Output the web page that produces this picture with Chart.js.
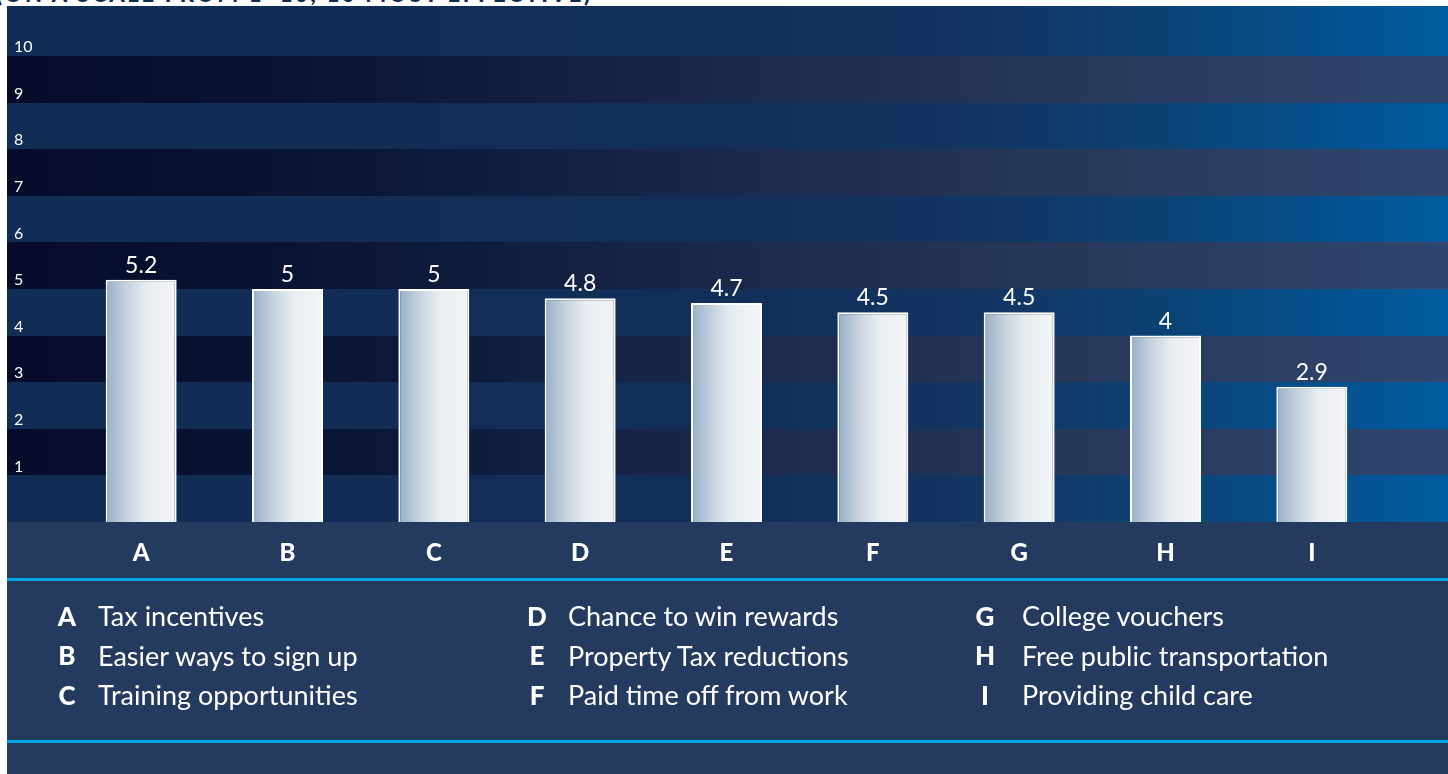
<!DOCTYPE html>
<html><head><meta charset="utf-8">
<script src="https://cdn.jsdelivr.net/npm/chart.js@4.4.1/dist/chart.umd.min.js"></script>
<style>
html,body{margin:0;padding:0;background:#fff;width:1448px;height:774px;overflow:hidden;font-family:Lato,sans-serif;}
#title{position:absolute;left:0;top:0;width:1448px;height:6px;overflow:hidden;}
#title span{position:absolute;left:-4px;top:-17px;font:900 22px/22px Lato,sans-serif;letter-spacing:2.7px;color:#13294b;white-space:nowrap;}
#wrap{position:absolute;left:7px;top:6px;width:1441px;height:768px;}
#legend .k{position:absolute;width:40px;text-align:center;font:900 26px/39px Lato,sans-serif;color:#fff;white-space:nowrap;}
#legend .t{position:absolute;font:400 27px/39px Lato,sans-serif;color:#fff;white-space:nowrap;}
</style></head>
<body>
<div id="title"><span>(ON A SCALE FROM 1–10, 10 MOST EFFECTIVE)</span></div>
<div id="wrap"><canvas id="c" width="1441" height="768"></canvas></div>
<div id="legend"></div>
<script>
const categories = ['A','B','C','D','E','F','G','H','I'];
const values = [5.2, 5, 5, 4.8, 4.7, 4.5, 4.5, 4, 2.9];
const descriptions = ['Tax incentives','Easier ways to sign up','Training opportunities','Chance to win rewards','Property Tax reductions','Paid time off from work','College vouchers','Free public transportation','Providing child care'];
const yMin = 0, yMax = 10, yStep = 1;

// legend (HTML text)
const colKeyCenter = [67, 537, 985], colTextLeft = [98, 568, 1022];
const legend = document.getElementById('legend');
categories.forEach((c, i) => {
  const col = Math.floor(i / 3), row = i % 3;
  const top = 596 + row * 39.5;
  const k = document.createElement('div');
  k.className = 'k'; k.textContent = c;
  k.style.left = (colKeyCenter[col] - 20) + 'px'; k.style.top = (top + 0.5) + 'px';
  const t = document.createElement('div');
  t.className = 't'; t.textContent = descriptions[i];
  t.style.left = colTextLeft[col] + 'px'; t.style.top = top + 'px';
  legend.appendChild(k); legend.appendChild(t);
});

const BAR_PCT = 0.485;
function barFill(ctx) {
  const chart = ctx.chart, ca = chart.chartArea, xs = chart.scales.x;
  if (!ca || !xs || ctx.type !== 'data') return '#e9eef2';
  const cx = xs.getPixelForValue(ctx.dataIndex);
  const w = (ca.right - ca.left) / categories.length * BAR_PCT;
  const g = chart.ctx.createLinearGradient(cx - w / 2, 0, cx + w / 2, 0);
  g.addColorStop(0, '#95aec7');
  g.addColorStop(0.3, '#c6d3df');
  g.addColorStop(0.58, '#e8edf1');
  g.addColorStop(1, '#f3f5f6');
  return g;
}

const bandsPlugin = {
  id: 'bands',
  beforeDraw(chart) {
    const ctx = chart.ctx, ys = chart.scales.y, xs = chart.scales.x, W = chart.width;
    const blue = ctx.createLinearGradient(0, 0, W, 0);
    blue.addColorStop(0, '#112c55');
    blue.addColorStop(0.5, '#112e59');
    blue.addColorStop(0.68, '#133562');
    blue.addColorStop(0.8, '#0c4273');
    blue.addColorStop(0.9, '#064f8a');
    blue.addColorStop(1, '#005c9f');
    const dark = ctx.createLinearGradient(0, 0, W, 0);
    dark.addColorStop(0, '#060b29');
    dark.addColorStop(0.25, '#0b1735');
    dark.addColorStop(0.5, '#1a284c');
    dark.addColorStop(0.7, '#263657');
    dark.addColorStop(1, '#30466e');
    ctx.save();
    for (let n = yMin; n <= yMax; n += yStep) {
      const bot = Math.round(ys.getPixelForValue(n));
      const top = n < yMax ? Math.round(ys.getPixelForValue(n + yStep)) : 0;
      ctx.fillStyle = (n % 2 === 0) ? blue : dark;
      ctx.fillRect(0, top, W, bot - top);
    }
    const base = Math.round(ys.getPixelForValue(yMin));
    ctx.fillStyle = '#243a5f';
    ctx.fillRect(0, base, W, chart.height - base);
    ctx.fillStyle = '#00a7e5';
    ctx.fillRect(0, Math.round(xs.bottom), W, 3);
    ctx.fillRect(0, 734, W, 3);
    ctx.restore();
  }
};

const labelsPlugin = {
  id: 'valueLabels',
  afterDatasetsDraw(chart) {
    const ctx = chart.ctx;
    ctx.save();
    ctx.fillStyle = '#ffffff';
    ctx.font = '400 23px Lato, sans-serif';
    ctx.textAlign = 'center';
    ctx.textBaseline = 'alphabetic';
    chart.getDatasetMeta(0).data.forEach((bar, i) => {
      ctx.fillText(String(values[i]), bar.x, bar.y - 7);
    });
    ctx.restore();
  }
};

new Chart(document.getElementById('c'), {
  type: 'bar',
  data: {
    labels: categories,
    datasets: [{
      data: values,
      backgroundColor: barFill,
      borderColor: '#ffffff',
      borderWidth: 2,
      borderSkipped: 'bottom',
      barPercentage: BAR_PCT,
      categoryPercentage: 1
    }]
  },
  options: {
    responsive: false,
    animation: false,
    layout: { padding: { left: 7, right: 63, top: 50, bottom: 196 } },
    plugins: { legend: { display: false }, tooltip: { enabled: false } },
    scales: {
      x: {
        grid: { display: false, drawTicks: false },
        border: { display: false },
        ticks: { color: '#ffffff', font: { family: 'Lato', weight: 900, size: 24 }, padding: 17 },
        afterFit(s) { s.height = 56; }
      },
      y: {
        min: yMin, max: yMax,
        grid: { display: false, drawTicks: false },
        border: { display: false },
        ticks: {
          stepSize: yStep, color: '#ffffff',
          font: { family: 'Lato', size: 16 },
          crossAlign: 'far', labelOffset: -9, padding: 0,
          callback: v => (v === 0 ? '' : v)
        },
        afterFit(s) { s.width = 54; }
      }
    }
  },
  plugins: [bandsPlugin, labelsPlugin]
});
</script>
</body></html>
